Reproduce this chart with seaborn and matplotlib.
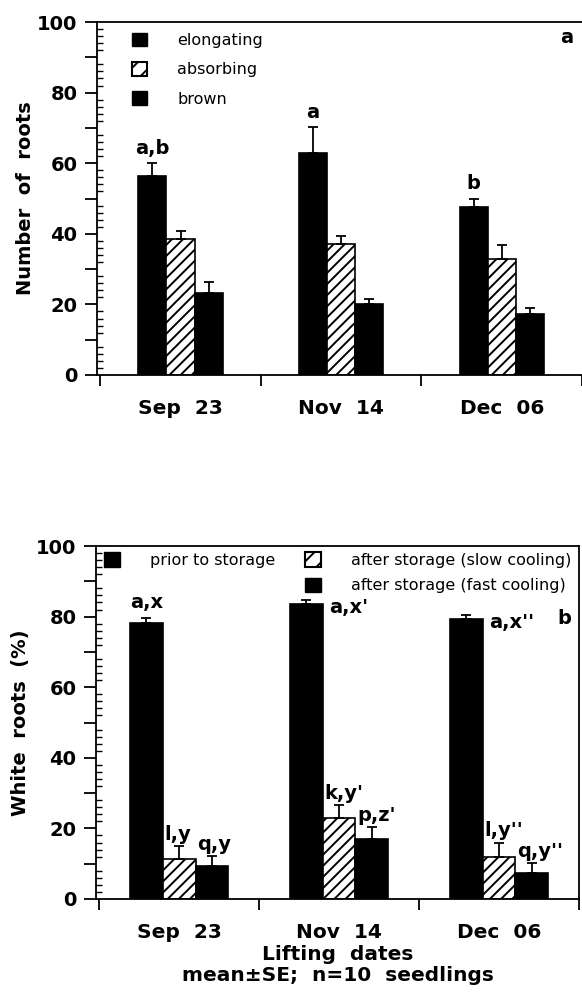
import numpy as np
import pandas as pd
import matplotlib
matplotlib.use("Agg")
import matplotlib.pyplot as plt
import seaborn as sns
from matplotlib.patches import Patch
from matplotlib.ticker import MultipleLocator, FixedLocator, FuncFormatter

# ---------------- data ----------------
dates = ["Sep  23", "Nov  14", "Dec  06"]

root_types = ["elongating", "absorbing", "brown"]
elongating = [56.5, 63.0, 47.7]
elongating_se = [3.5, 7.2, 2.3]
absorbing = [38.4, 37.0, 33.0]
absorbing_se = [2.3, 2.3, 3.8]
brown = [23.3, 20.2, 17.2]
brown_se = [3.0, 1.2, 1.8]
elong_letters = ["a,b", "a", "b"]

storage_groups = ["prior to storage", "after storage (slow cooling)",
                  "after storage (fast cooling)"]
prior = [78.3, 83.5, 79.2]
prior_se = [1.4, 1.2, 1.3]
slow = [11.4, 22.9, 12.0]
slow_se = [3.6, 3.7, 4.0]
fast = [9.3, 17.0, 7.5]
fast_se = [2.9, 3.3, 2.6]
prior_letters = ["a,x", "a,x'", "a,x''"]
slow_letters = ["l,y", "k,y'", "l,y''"]
fast_letters = ["q,y", "p,z'", "q,y''"]

y_ticks = [0, 20, 40, 60, 80, 100]

df_top = pd.DataFrame({
    "date": dates * 3,
    "type": np.repeat(root_types, 3),
    "value": elongating + absorbing + brown,
})
df_bot = pd.DataFrame({
    "date": dates * 3,
    "group": np.repeat(storage_groups, 3),
    "value": prior + slow + fast,
})

# ---------------- style ----------------
sns.set_theme(style="ticks")
plt.rcParams["font.family"] = ["DejaVu Sans"]
plt.rcParams["font.weight"] = "bold"
plt.rcParams["hatch.linewidth"] = 1.4
plt.rcParams["axes.linewidth"] = 1.3
for k in ("text.color", "axes.labelcolor", "xtick.color", "ytick.color",
          "xtick.labelcolor", "ytick.labelcolor", "axes.edgecolor"):
    plt.rcParams[k] = "black"

fig = plt.figure(figsize=(5.82, 9.92), dpi=100)
ax1 = fig.add_axes([97 / 582, 1 - 375 / 992, 485 / 582, 353 / 992])
ax2 = fig.add_axes([96 / 582, 1 - 899 / 992, 483 / 582, 353 / 992])

sns.barplot(data=df_top, x="date", y="value", hue="type", order=dates,
            hue_order=root_types, palette=["black", "white", "black"],
            width=0.525, errorbar=None, edgecolor="black", linewidth=1.2,
            saturation=1, legend=False, ax=ax1)
sns.barplot(data=df_bot, x="date", y="value", hue="group", order=dates,
            hue_order=storage_groups, palette=["black", "white", "black"],
            width=0.615, errorbar=None, edgecolor="black", linewidth=1.2,
            saturation=1, legend=False, ax=ax2)

for ax in (ax1, ax2):
    for p in ax.containers[1]:
        p.set_hatch("///")


def add_errors(ax, ses):
    tops = []
    for cont, se in zip(ax.containers, ses):
        xs = [p.get_x() + p.get_width() / 2 for p in cont]
        ys = [p.get_height() for p in cont]
        ax.errorbar(xs, ys, yerr=[np.zeros(len(se)), se], fmt="none",
                    ecolor="black", elinewidth=1.3, capsize=3.5,
                    capthick=1.3, zorder=5)
        tops.append([(x, y + s, p) for x, y, s, p in zip(xs, ys, se, cont)])
    return tops


tops1 = add_errors(ax1, [elongating_se, absorbing_se, brown_se])
tops2 = add_errors(ax2, [prior_se, slow_se, fast_se])

# ---------------- axes formatting ----------------
for ax in (ax1, ax2):
    ax.set_ylim(0, 100)
    ax.set_xlim(-0.52, 2.5)
    ax.yaxis.set_major_locator(MultipleLocator(10))
    ax.yaxis.set_major_formatter(FuncFormatter(
        lambda v, pos: f"{int(round(v))}" if int(round(v)) in y_ticks else ""))
    ax.yaxis.set_minor_locator(MultipleLocator(2))
    ax.tick_params(axis="y", which="major", direction="out", length=9,
                   width=1.3, labelsize=14, pad=5, colors="black")
    ax.tick_params(axis="y", which="minor", direction="in", length=4,
                   width=1.0, left=True, colors="black")
    ax.xaxis.set_minor_locator(FixedLocator([-0.5, 0.5, 1.5, 2.5]))
    ax.tick_params(axis="x", which="minor", direction="out", length=8,
                   width=1.3, bottom=True, colors="black")
    ax.tick_params(axis="x", which="major", length=0, pad=17, labelsize=14.5,
                   colors="black")
    ax.set_xlabel("")
    for s in ax.spines.values():
        s.set_color("black")
        s.set_linewidth(1.3)

ax1.spines["right"].set_visible(False)

ax1.set_ylabel("Number  of  roots", fontsize=14, fontweight="bold",
               va="center", color="black")
ax1.yaxis.set_label_coords(-0.148, 0.5)
ax2.set_ylabel("White  roots  (%)", fontsize=14, fontweight="bold",
               va="center", color="black")
ax2.yaxis.set_label_coords(-0.157, 0.5)
ax2.set_xlabel("Lifting  dates\nmean±SE;  n=10  seedlings", fontsize=14.5,
               fontweight="bold", linespacing=1.15, va="top", color="black")
ax2.xaxis.set_label_coords(0.5, -0.13)

# ---------------- legends ----------------
h_black = Patch(facecolor="black", edgecolor="black")
h_hatch = Patch(facecolor="white", edgecolor="black", hatch="//", linewidth=1.5)
leg_prop = {"size": 11.5, "weight": "normal"}
leg1 = ax1.legend([h_black, h_hatch, h_black], root_types, loc="upper left",
                  bbox_to_anchor=(0.072, 0.97), frameon=False,
                  borderaxespad=0, borderpad=0, handlelength=0.95,
                  handleheight=0.95, handletextpad=1.9, labelspacing=0.88,
                  prop=leg_prop, labelcolor="black")

h_blank = Patch(facecolor="none", edgecolor="none")
leg2 = ax2.legend([h_black, h_blank, h_hatch, h_black],
                  [storage_groups[0], "", storage_groups[1], storage_groups[2]],
                  ncol=2, loc="upper left", bbox_to_anchor=(0.016, 0.982),
                  frameon=False, borderaxespad=0, borderpad=0,
                  handlelength=1.0, handleheight=1.0, handletextpad=1.9,
                  labelspacing=0.6, columnspacing=1.85, prop=leg_prop,
                  labelcolor="black")

# ---------------- significance letters ----------------
txt = dict(fontsize=14, fontweight="bold", color="black")
for (x, yt, p), s in zip(tops1[0], elong_letters):
    ax1.text(x, yt + 1.5, s, ha="center", va="bottom", **txt)

for i, ((x, yt, p), s) in enumerate(zip(tops2[0], prior_letters)):
    if i == 0:
        ax2.text(p.get_x(), yt + 1.5, s, ha="left", va="bottom", **txt)
    else:
        ax2.text(p.get_x() + p.get_width() + 0.04, p.get_height() - 0.8, s,
                 ha="left", va="center", **txt)
for (x, yt, p), s in zip(tops2[1] + tops2[2], slow_letters + fast_letters):
    ax2.text(p.get_x() + 0.01, yt + 0.6, s, ha="left", va="bottom", **txt)

ax1.text(0.969, 0.955, "a", transform=ax1.transAxes, ha="center",
         va="center", **txt)
ax2.text(0.969, 0.796, "b", transform=ax2.transAxes, ha="center",
         va="center", **txt)

fig.savefig("out.png", dpi=100)
